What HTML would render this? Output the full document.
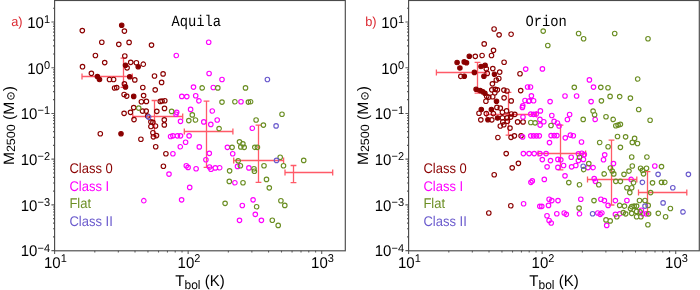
<!DOCTYPE html>
<html><head><meta charset="utf-8"><style>html,body{margin:0;padding:0;background:#fff;width:700px;height:290px;overflow:hidden}svg{display:block;will-change:transform;text-rendering:geometricPrecision}</style></head>
<body><svg width="700" height="290" viewBox="0 0 700 290">
<path d="M82.00,76.50H132.30M123.50,58.10V87.30M82.00,73.60V79.40M132.30,73.60V79.40M120.60,58.10H126.40M120.60,87.30H126.40M132.80,116.50H182.70M154.50,100.50V136.20M132.80,113.60V119.40M182.70,113.60V119.40M151.60,100.50H157.40M151.60,136.20H157.40M184.30,131.50H232.90M206.50,101.20V167.30M184.30,128.60V134.40M232.90,128.60V134.40M203.60,101.20H209.40M203.60,167.30H209.40M233.70,160.50H283.60M258.50,125.20V182.30M233.70,157.60V163.40M283.60,157.60V163.40M255.60,125.20H261.40M255.60,182.30H261.40M285.00,172.50H332.70M293.50,165.50V182.60M285.00,169.60V175.40M332.70,169.60V175.40M290.60,165.50H296.40M290.60,182.60H296.40M436.40,72.50H486.70M477.50,62.40V93.10M436.40,69.60V75.40M486.70,69.60V75.40M474.60,62.40H480.40M474.60,93.10H480.40M486.50,114.50H536.40M508.50,92.30V135.20M486.50,111.60V117.40M536.40,111.60V117.40M505.60,92.30H511.40M505.60,135.20H511.40M538.20,153.50H585.60M560.50,125.20V169.90M538.20,150.60V156.40M585.60,150.60V156.40M557.60,125.20H563.40M557.60,169.90H563.40M587.50,179.50H636.80M611.50,140.20V205.00M587.50,176.60V182.40M636.80,176.60V182.40M608.60,140.20H614.40M608.60,205.00H614.40M638.50,192.50H686.80M647.50,171.60V213.80M638.50,189.60V195.40M686.80,189.60V195.40M644.60,171.60H650.40M644.60,213.80H650.40" stroke="#ff5a68" stroke-width="1.3" fill="none"/>
<path d="M80.05,30.60a2.25,2.25 0 1,0 4.5,0a2.25,2.25 0 1,0 -4.5,0M122.15,31.10a2.25,2.25 0 1,0 4.5,0a2.25,2.25 0 1,0 -4.5,0M99.55,42.20a2.25,2.25 0 1,0 4.5,0a2.25,2.25 0 1,0 -4.5,0M116.55,44.30a2.25,2.25 0 1,0 4.5,0a2.25,2.25 0 1,0 -4.5,0M93.15,55.50a2.25,2.25 0 1,0 4.5,0a2.25,2.25 0 1,0 -4.5,0M122.55,56.00a2.25,2.25 0 1,0 4.5,0a2.25,2.25 0 1,0 -4.5,0M126.85,42.40a2.25,2.25 0 1,0 4.5,0a2.25,2.25 0 1,0 -4.5,0M149.25,45.10a2.25,2.25 0 1,0 4.5,0a2.25,2.25 0 1,0 -4.5,0M80.25,66.70a2.25,2.25 0 1,0 4.5,0a2.25,2.25 0 1,0 -4.5,0M102.45,62.60a2.25,2.25 0 1,0 4.5,0a2.25,2.25 0 1,0 -4.5,0M89.15,73.30a2.25,2.25 0 1,0 4.5,0a2.25,2.25 0 1,0 -4.5,0M107.25,79.50a2.25,2.25 0 1,0 4.5,0a2.25,2.25 0 1,0 -4.5,0M111.35,79.50a2.25,2.25 0 1,0 4.5,0a2.25,2.25 0 1,0 -4.5,0M112.35,88.00a2.25,2.25 0 1,0 4.5,0a2.25,2.25 0 1,0 -4.5,0M114.45,87.60a2.25,2.25 0 1,0 4.5,0a2.25,2.25 0 1,0 -4.5,0M122.15,83.90a2.25,2.25 0 1,0 4.5,0a2.25,2.25 0 1,0 -4.5,0M124.85,67.80a2.25,2.25 0 1,0 4.5,0a2.25,2.25 0 1,0 -4.5,0M128.45,62.30a2.25,2.25 0 1,0 4.5,0a2.25,2.25 0 1,0 -4.5,0M134.15,62.70a2.25,2.25 0 1,0 4.5,0a2.25,2.25 0 1,0 -4.5,0M141.05,64.20a2.25,2.25 0 1,0 4.5,0a2.25,2.25 0 1,0 -4.5,0M132.55,79.90a2.25,2.25 0 1,0 4.5,0a2.25,2.25 0 1,0 -4.5,0M152.25,76.00a2.25,2.25 0 1,0 4.5,0a2.25,2.25 0 1,0 -4.5,0M140.55,87.50a2.25,2.25 0 1,0 4.5,0a2.25,2.25 0 1,0 -4.5,0M152.95,89.80a2.25,2.25 0 1,0 4.5,0a2.25,2.25 0 1,0 -4.5,0M160.85,73.90a2.25,2.25 0 1,0 4.5,0a2.25,2.25 0 1,0 -4.5,0M159.35,82.40a2.25,2.25 0 1,0 4.5,0a2.25,2.25 0 1,0 -4.5,0M121.85,94.50a2.25,2.25 0 1,0 4.5,0a2.25,2.25 0 1,0 -4.5,0M124.45,96.10a2.25,2.25 0 1,0 4.5,0a2.25,2.25 0 1,0 -4.5,0M139.15,101.70a2.25,2.25 0 1,0 4.5,0a2.25,2.25 0 1,0 -4.5,0M131.45,107.60a2.25,2.25 0 1,0 4.5,0a2.25,2.25 0 1,0 -4.5,0M121.85,113.30a2.25,2.25 0 1,0 4.5,0a2.25,2.25 0 1,0 -4.5,0M128.25,112.30a2.25,2.25 0 1,0 4.5,0a2.25,2.25 0 1,0 -4.5,0M131.75,119.60a2.25,2.25 0 1,0 4.5,0a2.25,2.25 0 1,0 -4.5,0M141.35,95.60a2.25,2.25 0 1,0 4.5,0a2.25,2.25 0 1,0 -4.5,0M144.15,101.40a2.25,2.25 0 1,0 4.5,0a2.25,2.25 0 1,0 -4.5,0M158.05,101.40a2.25,2.25 0 1,0 4.5,0a2.25,2.25 0 1,0 -4.5,0M159.85,101.00a2.25,2.25 0 1,0 4.5,0a2.25,2.25 0 1,0 -4.5,0M162.55,100.70a2.25,2.25 0 1,0 4.5,0a2.25,2.25 0 1,0 -4.5,0M162.25,108.40a2.25,2.25 0 1,0 4.5,0a2.25,2.25 0 1,0 -4.5,0M154.55,111.30a2.25,2.25 0 1,0 4.5,0a2.25,2.25 0 1,0 -4.5,0M140.25,111.10a2.25,2.25 0 1,0 4.5,0a2.25,2.25 0 1,0 -4.5,0M143.95,111.10a2.25,2.25 0 1,0 4.5,0a2.25,2.25 0 1,0 -4.5,0M145.45,116.10a2.25,2.25 0 1,0 4.5,0a2.25,2.25 0 1,0 -4.5,0M148.65,121.80a2.25,2.25 0 1,0 4.5,0a2.25,2.25 0 1,0 -4.5,0M150.65,122.30a2.25,2.25 0 1,0 4.5,0a2.25,2.25 0 1,0 -4.5,0M148.65,126.50a2.25,2.25 0 1,0 4.5,0a2.25,2.25 0 1,0 -4.5,0M153.25,126.00a2.25,2.25 0 1,0 4.5,0a2.25,2.25 0 1,0 -4.5,0M162.05,119.80a2.25,2.25 0 1,0 4.5,0a2.25,2.25 0 1,0 -4.5,0M162.05,124.90a2.25,2.25 0 1,0 4.5,0a2.25,2.25 0 1,0 -4.5,0M98.05,133.70a2.25,2.25 0 1,0 4.5,0a2.25,2.25 0 1,0 -4.5,0M138.65,139.20a2.25,2.25 0 1,0 4.5,0a2.25,2.25 0 1,0 -4.5,0M150.65,132.70a2.25,2.25 0 1,0 4.5,0a2.25,2.25 0 1,0 -4.5,0M151.15,136.80a2.25,2.25 0 1,0 4.5,0a2.25,2.25 0 1,0 -4.5,0M154.25,135.60a2.25,2.25 0 1,0 4.5,0a2.25,2.25 0 1,0 -4.5,0M153.45,146.70a2.25,2.25 0 1,0 4.5,0a2.25,2.25 0 1,0 -4.5,0M163.65,153.70a2.25,2.25 0 1,0 4.5,0a2.25,2.25 0 1,0 -4.5,0M161.15,166.20a2.25,2.25 0 1,0 4.5,0a2.25,2.25 0 1,0 -4.5,0M491.85,29.00a2.25,2.25 0 1,0 4.5,0a2.25,2.25 0 1,0 -4.5,0M496.85,34.80a2.25,2.25 0 1,0 4.5,0a2.25,2.25 0 1,0 -4.5,0M508.85,34.20a2.25,2.25 0 1,0 4.5,0a2.25,2.25 0 1,0 -4.5,0M481.95,43.90a2.25,2.25 0 1,0 4.5,0a2.25,2.25 0 1,0 -4.5,0M491.25,50.30a2.25,2.25 0 1,0 4.5,0a2.25,2.25 0 1,0 -4.5,0M479.85,55.50a2.25,2.25 0 1,0 4.5,0a2.25,2.25 0 1,0 -4.5,0M489.25,55.50a2.25,2.25 0 1,0 4.5,0a2.25,2.25 0 1,0 -4.5,0M473.05,56.30a2.25,2.25 0 1,0 4.5,0a2.25,2.25 0 1,0 -4.5,0M458.55,76.30a2.25,2.25 0 1,0 4.5,0a2.25,2.25 0 1,0 -4.5,0M501.85,62.20a2.25,2.25 0 1,0 4.5,0a2.25,2.25 0 1,0 -4.5,0M484.05,68.80a2.25,2.25 0 1,0 4.5,0a2.25,2.25 0 1,0 -4.5,0M484.95,73.40a2.25,2.25 0 1,0 4.5,0a2.25,2.25 0 1,0 -4.5,0M490.55,68.60a2.25,2.25 0 1,0 4.5,0a2.25,2.25 0 1,0 -4.5,0M497.45,72.10a2.25,2.25 0 1,0 4.5,0a2.25,2.25 0 1,0 -4.5,0M494.05,80.00a2.25,2.25 0 1,0 4.5,0a2.25,2.25 0 1,0 -4.5,0M496.55,78.50a2.25,2.25 0 1,0 4.5,0a2.25,2.25 0 1,0 -4.5,0M490.15,83.80a2.25,2.25 0 1,0 4.5,0a2.25,2.25 0 1,0 -4.5,0M484.45,96.20a2.25,2.25 0 1,0 4.5,0a2.25,2.25 0 1,0 -4.5,0M486.55,97.10a2.25,2.25 0 1,0 4.5,0a2.25,2.25 0 1,0 -4.5,0M483.65,101.20a2.25,2.25 0 1,0 4.5,0a2.25,2.25 0 1,0 -4.5,0M489.55,89.80a2.25,2.25 0 1,0 4.5,0a2.25,2.25 0 1,0 -4.5,0M493.05,89.30a2.25,2.25 0 1,0 4.5,0a2.25,2.25 0 1,0 -4.5,0M495.15,89.80a2.25,2.25 0 1,0 4.5,0a2.25,2.25 0 1,0 -4.5,0M492.55,92.80a2.25,2.25 0 1,0 4.5,0a2.25,2.25 0 1,0 -4.5,0M490.45,96.70a2.25,2.25 0 1,0 4.5,0a2.25,2.25 0 1,0 -4.5,0M501.65,90.10a2.25,2.25 0 1,0 4.5,0a2.25,2.25 0 1,0 -4.5,0M504.75,91.00a2.25,2.25 0 1,0 4.5,0a2.25,2.25 0 1,0 -4.5,0M501.85,97.80a2.25,2.25 0 1,0 4.5,0a2.25,2.25 0 1,0 -4.5,0M518.45,90.60a2.25,2.25 0 1,0 4.5,0a2.25,2.25 0 1,0 -4.5,0M508.95,100.90a2.25,2.25 0 1,0 4.5,0a2.25,2.25 0 1,0 -4.5,0M517.75,73.70a2.25,2.25 0 1,0 4.5,0a2.25,2.25 0 1,0 -4.5,0M476.75,113.20a2.25,2.25 0 1,0 4.5,0a2.25,2.25 0 1,0 -4.5,0M484.05,113.60a2.25,2.25 0 1,0 4.5,0a2.25,2.25 0 1,0 -4.5,0M491.15,113.60a2.25,2.25 0 1,0 4.5,0a2.25,2.25 0 1,0 -4.5,0M494.65,107.40a2.25,2.25 0 1,0 4.5,0a2.25,2.25 0 1,0 -4.5,0M498.05,108.10a2.25,2.25 0 1,0 4.5,0a2.25,2.25 0 1,0 -4.5,0M500.15,112.20a2.25,2.25 0 1,0 4.5,0a2.25,2.25 0 1,0 -4.5,0M504.35,110.90a2.25,2.25 0 1,0 4.5,0a2.25,2.25 0 1,0 -4.5,0M509.15,114.00a2.25,2.25 0 1,0 4.5,0a2.25,2.25 0 1,0 -4.5,0M512.55,114.30a2.25,2.25 0 1,0 4.5,0a2.25,2.25 0 1,0 -4.5,0M478.55,119.80a2.25,2.25 0 1,0 4.5,0a2.25,2.25 0 1,0 -4.5,0M489.55,119.80a2.25,2.25 0 1,0 4.5,0a2.25,2.25 0 1,0 -4.5,0M500.15,117.80a2.25,2.25 0 1,0 4.5,0a2.25,2.25 0 1,0 -4.5,0M504.95,117.80a2.25,2.25 0 1,0 4.5,0a2.25,2.25 0 1,0 -4.5,0M508.45,117.10a2.25,2.25 0 1,0 4.5,0a2.25,2.25 0 1,0 -4.5,0M500.55,121.90a2.25,2.25 0 1,0 4.5,0a2.25,2.25 0 1,0 -4.5,0M498.05,126.00a2.25,2.25 0 1,0 4.5,0a2.25,2.25 0 1,0 -4.5,0M501.55,124.70a2.25,2.25 0 1,0 4.5,0a2.25,2.25 0 1,0 -4.5,0M505.25,121.20a2.25,2.25 0 1,0 4.5,0a2.25,2.25 0 1,0 -4.5,0M507.75,128.10a2.25,2.25 0 1,0 4.5,0a2.25,2.25 0 1,0 -4.5,0M515.35,121.90a2.25,2.25 0 1,0 4.5,0a2.25,2.25 0 1,0 -4.5,0M520.85,121.90a2.25,2.25 0 1,0 4.5,0a2.25,2.25 0 1,0 -4.5,0M495.65,137.50a2.25,2.25 0 1,0 4.5,0a2.25,2.25 0 1,0 -4.5,0M508.75,137.30a2.25,2.25 0 1,0 4.5,0a2.25,2.25 0 1,0 -4.5,0M512.15,135.80a2.25,2.25 0 1,0 4.5,0a2.25,2.25 0 1,0 -4.5,0M503.95,153.60a2.25,2.25 0 1,0 4.5,0a2.25,2.25 0 1,0 -4.5,0M518.85,135.80a2.25,2.25 0 1,0 4.5,0a2.25,2.25 0 1,0 -4.5,0M516.15,163.30a2.25,2.25 0 1,0 4.5,0a2.25,2.25 0 1,0 -4.5,0M509.95,167.80a2.25,2.25 0 1,0 4.5,0a2.25,2.25 0 1,0 -4.5,0M491.95,174.70a2.25,2.25 0 1,0 4.5,0a2.25,2.25 0 1,0 -4.5,0M508.55,205.70a2.25,2.25 0 1,0 4.5,0a2.25,2.25 0 1,0 -4.5,0M486.55,213.00a2.25,2.25 0 1,0 4.5,0a2.25,2.25 0 1,0 -4.5,0" fill="none" stroke="#8b0000" stroke-width="1.15"/>
<path d="M119.45,25.30a2.25,2.25 0 1,0 4.5,0a2.25,2.25 0 1,0 -4.5,0M95.15,76.60a2.25,2.25 0 1,0 4.5,0a2.25,2.25 0 1,0 -4.5,0M97.25,79.50a2.25,2.25 0 1,0 4.5,0a2.25,2.25 0 1,0 -4.5,0M123.25,86.90a2.25,2.25 0 1,0 4.5,0a2.25,2.25 0 1,0 -4.5,0M123.25,65.20a2.25,2.25 0 1,0 4.5,0a2.25,2.25 0 1,0 -4.5,0M135.95,66.70a2.25,2.25 0 1,0 4.5,0a2.25,2.25 0 1,0 -4.5,0M127.45,76.70a2.25,2.25 0 1,0 4.5,0a2.25,2.25 0 1,0 -4.5,0M131.45,96.40a2.25,2.25 0 1,0 4.5,0a2.25,2.25 0 1,0 -4.5,0M118.75,133.70a2.25,2.25 0 1,0 4.5,0a2.25,2.25 0 1,0 -4.5,0M467.05,56.30a2.25,2.25 0 1,0 4.5,0a2.25,2.25 0 1,0 -4.5,0M454.85,62.50a2.25,2.25 0 1,0 4.5,0a2.25,2.25 0 1,0 -4.5,0M461.95,61.90a2.25,2.25 0 1,0 4.5,0a2.25,2.25 0 1,0 -4.5,0M464.25,62.70a2.25,2.25 0 1,0 4.5,0a2.25,2.25 0 1,0 -4.5,0M457.65,68.00a2.25,2.25 0 1,0 4.5,0a2.25,2.25 0 1,0 -4.5,0M472.15,72.40a2.25,2.25 0 1,0 4.5,0a2.25,2.25 0 1,0 -4.5,0M462.05,76.30a2.25,2.25 0 1,0 4.5,0a2.25,2.25 0 1,0 -4.5,0M478.75,66.50a2.25,2.25 0 1,0 4.5,0a2.25,2.25 0 1,0 -4.5,0M482.85,65.30a2.25,2.25 0 1,0 4.5,0a2.25,2.25 0 1,0 -4.5,0M481.65,76.20a2.25,2.25 0 1,0 4.5,0a2.25,2.25 0 1,0 -4.5,0M492.25,74.20a2.25,2.25 0 1,0 4.5,0a2.25,2.25 0 1,0 -4.5,0M473.85,89.30a2.25,2.25 0 1,0 4.5,0a2.25,2.25 0 1,0 -4.5,0M477.95,90.60a2.25,2.25 0 1,0 4.5,0a2.25,2.25 0 1,0 -4.5,0M480.55,91.70a2.25,2.25 0 1,0 4.5,0a2.25,2.25 0 1,0 -4.5,0M482.65,93.20a2.25,2.25 0 1,0 4.5,0a2.25,2.25 0 1,0 -4.5,0M494.25,101.20a2.25,2.25 0 1,0 4.5,0a2.25,2.25 0 1,0 -4.5,0M479.05,109.50a2.25,2.25 0 1,0 4.5,0a2.25,2.25 0 1,0 -4.5,0M489.15,109.50a2.25,2.25 0 1,0 4.5,0a2.25,2.25 0 1,0 -4.5,0M485.65,119.80a2.25,2.25 0 1,0 4.5,0a2.25,2.25 0 1,0 -4.5,0M495.35,118.00a2.25,2.25 0 1,0 4.5,0a2.25,2.25 0 1,0 -4.5,0" fill="#8b0000" stroke="#8b0000" stroke-width="1.1"/>
<path d="M174.05,55.50a2.25,2.25 0 1,0 4.5,0a2.25,2.25 0 1,0 -4.5,0M206.45,42.20a2.25,2.25 0 1,0 4.5,0a2.25,2.25 0 1,0 -4.5,0M191.25,87.10a2.25,2.25 0 1,0 4.5,0a2.25,2.25 0 1,0 -4.5,0M174.45,112.30a2.25,2.25 0 1,0 4.5,0a2.25,2.25 0 1,0 -4.5,0M173.75,114.20a2.25,2.25 0 1,0 4.5,0a2.25,2.25 0 1,0 -4.5,0M179.55,96.40a2.25,2.25 0 1,0 4.5,0a2.25,2.25 0 1,0 -4.5,0M184.55,96.60a2.25,2.25 0 1,0 4.5,0a2.25,2.25 0 1,0 -4.5,0M178.25,121.30a2.25,2.25 0 1,0 4.5,0a2.25,2.25 0 1,0 -4.5,0M206.85,73.50a2.25,2.25 0 1,0 4.5,0a2.25,2.25 0 1,0 -4.5,0M219.75,79.50a2.25,2.25 0 1,0 4.5,0a2.25,2.25 0 1,0 -4.5,0M211.05,87.50a2.25,2.25 0 1,0 4.5,0a2.25,2.25 0 1,0 -4.5,0M193.45,95.70a2.25,2.25 0 1,0 4.5,0a2.25,2.25 0 1,0 -4.5,0M196.65,100.80a2.25,2.25 0 1,0 4.5,0a2.25,2.25 0 1,0 -4.5,0M188.35,109.40a2.25,2.25 0 1,0 4.5,0a2.25,2.25 0 1,0 -4.5,0M210.05,111.00a2.25,2.25 0 1,0 4.5,0a2.25,2.25 0 1,0 -4.5,0M201.55,121.90a2.25,2.25 0 1,0 4.5,0a2.25,2.25 0 1,0 -4.5,0M208.55,124.40a2.25,2.25 0 1,0 4.5,0a2.25,2.25 0 1,0 -4.5,0M214.95,120.00a2.25,2.25 0 1,0 4.5,0a2.25,2.25 0 1,0 -4.5,0M238.75,101.70a2.25,2.25 0 1,0 4.5,0a2.25,2.25 0 1,0 -4.5,0M168.35,136.50a2.25,2.25 0 1,0 4.5,0a2.25,2.25 0 1,0 -4.5,0M170.65,135.80a2.25,2.25 0 1,0 4.5,0a2.25,2.25 0 1,0 -4.5,0M175.15,135.80a2.25,2.25 0 1,0 4.5,0a2.25,2.25 0 1,0 -4.5,0M178.25,135.80a2.25,2.25 0 1,0 4.5,0a2.25,2.25 0 1,0 -4.5,0M183.35,142.20a2.25,2.25 0 1,0 4.5,0a2.25,2.25 0 1,0 -4.5,0M178.05,146.70a2.25,2.25 0 1,0 4.5,0a2.25,2.25 0 1,0 -4.5,0M170.65,153.70a2.25,2.25 0 1,0 4.5,0a2.25,2.25 0 1,0 -4.5,0M186.85,135.80a2.25,2.25 0 1,0 4.5,0a2.25,2.25 0 1,0 -4.5,0M197.05,146.90a2.25,2.25 0 1,0 4.5,0a2.25,2.25 0 1,0 -4.5,0M225.15,147.30a2.25,2.25 0 1,0 4.5,0a2.25,2.25 0 1,0 -4.5,0M207.05,153.30a2.25,2.25 0 1,0 4.5,0a2.25,2.25 0 1,0 -4.5,0M203.65,159.70a2.25,2.25 0 1,0 4.5,0a2.25,2.25 0 1,0 -4.5,0M250.05,128.20a2.25,2.25 0 1,0 4.5,0a2.25,2.25 0 1,0 -4.5,0M230.45,153.70a2.25,2.25 0 1,0 4.5,0a2.25,2.25 0 1,0 -4.5,0M166.75,174.10a2.25,2.25 0 1,0 4.5,0a2.25,2.25 0 1,0 -4.5,0M184.05,165.70a2.25,2.25 0 1,0 4.5,0a2.25,2.25 0 1,0 -4.5,0M185.85,167.40a2.25,2.25 0 1,0 4.5,0a2.25,2.25 0 1,0 -4.5,0M193.85,168.70a2.25,2.25 0 1,0 4.5,0a2.25,2.25 0 1,0 -4.5,0M207.25,167.00a2.25,2.25 0 1,0 4.5,0a2.25,2.25 0 1,0 -4.5,0M208.75,169.20a2.25,2.25 0 1,0 4.5,0a2.25,2.25 0 1,0 -4.5,0M213.05,167.90a2.25,2.25 0 1,0 4.5,0a2.25,2.25 0 1,0 -4.5,0M217.45,167.70a2.25,2.25 0 1,0 4.5,0a2.25,2.25 0 1,0 -4.5,0M187.45,187.40a2.25,2.25 0 1,0 4.5,0a2.25,2.25 0 1,0 -4.5,0M235.25,166.40a2.25,2.25 0 1,0 4.5,0a2.25,2.25 0 1,0 -4.5,0M246.65,167.90a2.25,2.25 0 1,0 4.5,0a2.25,2.25 0 1,0 -4.5,0M232.65,182.70a2.25,2.25 0 1,0 4.5,0a2.25,2.25 0 1,0 -4.5,0M141.55,200.70a2.25,2.25 0 1,0 4.5,0a2.25,2.25 0 1,0 -4.5,0M179.35,199.80a2.25,2.25 0 1,0 4.5,0a2.25,2.25 0 1,0 -4.5,0M250.85,199.80a2.25,2.25 0 1,0 4.5,0a2.25,2.25 0 1,0 -4.5,0M240.05,205.50a2.25,2.25 0 1,0 4.5,0a2.25,2.25 0 1,0 -4.5,0M253.05,214.40a2.25,2.25 0 1,0 4.5,0a2.25,2.25 0 1,0 -4.5,0M237.25,220.30a2.25,2.25 0 1,0 4.5,0a2.25,2.25 0 1,0 -4.5,0M259.15,220.30a2.25,2.25 0 1,0 4.5,0a2.25,2.25 0 1,0 -4.5,0M525.35,87.00a2.25,2.25 0 1,0 4.5,0a2.25,2.25 0 1,0 -4.5,0M528.25,87.00a2.25,2.25 0 1,0 4.5,0a2.25,2.25 0 1,0 -4.5,0M522.75,100.50a2.25,2.25 0 1,0 4.5,0a2.25,2.25 0 1,0 -4.5,0M526.35,101.20a2.25,2.25 0 1,0 4.5,0a2.25,2.25 0 1,0 -4.5,0M520.55,105.70a2.25,2.25 0 1,0 4.5,0a2.25,2.25 0 1,0 -4.5,0M523.45,69.10a2.25,2.25 0 1,0 4.5,0a2.25,2.25 0 1,0 -4.5,0M540.15,68.90a2.25,2.25 0 1,0 4.5,0a2.25,2.25 0 1,0 -4.5,0M529.15,95.80a2.25,2.25 0 1,0 4.5,0a2.25,2.25 0 1,0 -4.5,0M520.15,107.40a2.25,2.25 0 1,0 4.5,0a2.25,2.25 0 1,0 -4.5,0M520.75,117.00a2.25,2.25 0 1,0 4.5,0a2.25,2.25 0 1,0 -4.5,0M527.15,100.70a2.25,2.25 0 1,0 4.5,0a2.25,2.25 0 1,0 -4.5,0M531.35,100.70a2.25,2.25 0 1,0 4.5,0a2.25,2.25 0 1,0 -4.5,0M547.85,101.60a2.25,2.25 0 1,0 4.5,0a2.25,2.25 0 1,0 -4.5,0M538.15,110.90a2.25,2.25 0 1,0 4.5,0a2.25,2.25 0 1,0 -4.5,0M528.55,114.10a2.25,2.25 0 1,0 4.5,0a2.25,2.25 0 1,0 -4.5,0M531.35,114.30a2.25,2.25 0 1,0 4.5,0a2.25,2.25 0 1,0 -4.5,0M533.95,114.10a2.25,2.25 0 1,0 4.5,0a2.25,2.25 0 1,0 -4.5,0M549.55,115.50a2.25,2.25 0 1,0 4.5,0a2.25,2.25 0 1,0 -4.5,0M537.65,119.40a2.25,2.25 0 1,0 4.5,0a2.25,2.25 0 1,0 -4.5,0M541.55,121.70a2.25,2.25 0 1,0 4.5,0a2.25,2.25 0 1,0 -4.5,0M537.85,125.10a2.25,2.25 0 1,0 4.5,0a2.25,2.25 0 1,0 -4.5,0M551.85,121.40a2.25,2.25 0 1,0 4.5,0a2.25,2.25 0 1,0 -4.5,0M587.15,79.90a2.25,2.25 0 1,0 4.5,0a2.25,2.25 0 1,0 -4.5,0M591.25,87.10a2.25,2.25 0 1,0 4.5,0a2.25,2.25 0 1,0 -4.5,0M562.75,96.00a2.25,2.25 0 1,0 4.5,0a2.25,2.25 0 1,0 -4.5,0M574.35,96.00a2.25,2.25 0 1,0 4.5,0a2.25,2.25 0 1,0 -4.5,0M588.85,101.60a2.25,2.25 0 1,0 4.5,0a2.25,2.25 0 1,0 -4.5,0M592.95,119.40a2.25,2.25 0 1,0 4.5,0a2.25,2.25 0 1,0 -4.5,0M567.35,114.50a2.25,2.25 0 1,0 4.5,0a2.25,2.25 0 1,0 -4.5,0M565.15,119.50a2.25,2.25 0 1,0 4.5,0a2.25,2.25 0 1,0 -4.5,0M555.15,123.00a2.25,2.25 0 1,0 4.5,0a2.25,2.25 0 1,0 -4.5,0M556.85,126.00a2.25,2.25 0 1,0 4.5,0a2.25,2.25 0 1,0 -4.5,0M548.85,135.60a2.25,2.25 0 1,0 4.5,0a2.25,2.25 0 1,0 -4.5,0M551.95,135.60a2.25,2.25 0 1,0 4.5,0a2.25,2.25 0 1,0 -4.5,0M554.65,135.60a2.25,2.25 0 1,0 4.5,0a2.25,2.25 0 1,0 -4.5,0M563.05,137.80a2.25,2.25 0 1,0 4.5,0a2.25,2.25 0 1,0 -4.5,0M568.15,135.10a2.25,2.25 0 1,0 4.5,0a2.25,2.25 0 1,0 -4.5,0M571.05,135.70a2.25,2.25 0 1,0 4.5,0a2.25,2.25 0 1,0 -4.5,0M520.35,136.90a2.25,2.25 0 1,0 4.5,0a2.25,2.25 0 1,0 -4.5,0M528.55,135.80a2.25,2.25 0 1,0 4.5,0a2.25,2.25 0 1,0 -4.5,0M531.35,135.80a2.25,2.25 0 1,0 4.5,0a2.25,2.25 0 1,0 -4.5,0M534.25,135.80a2.25,2.25 0 1,0 4.5,0a2.25,2.25 0 1,0 -4.5,0M537.05,135.80a2.25,2.25 0 1,0 4.5,0a2.25,2.25 0 1,0 -4.5,0M547.25,142.60a2.25,2.25 0 1,0 4.5,0a2.25,2.25 0 1,0 -4.5,0M521.15,153.60a2.25,2.25 0 1,0 4.5,0a2.25,2.25 0 1,0 -4.5,0M526.85,153.60a2.25,2.25 0 1,0 4.5,0a2.25,2.25 0 1,0 -4.5,0M531.95,153.60a2.25,2.25 0 1,0 4.5,0a2.25,2.25 0 1,0 -4.5,0M537.65,153.60a2.25,2.25 0 1,0 4.5,0a2.25,2.25 0 1,0 -4.5,0M543.85,153.60a2.25,2.25 0 1,0 4.5,0a2.25,2.25 0 1,0 -4.5,0M579.25,142.00a2.25,2.25 0 1,0 4.5,0a2.25,2.25 0 1,0 -4.5,0M548.25,160.60a2.25,2.25 0 1,0 4.5,0a2.25,2.25 0 1,0 -4.5,0M555.65,159.40a2.25,2.25 0 1,0 4.5,0a2.25,2.25 0 1,0 -4.5,0M558.55,159.80a2.25,2.25 0 1,0 4.5,0a2.25,2.25 0 1,0 -4.5,0M568.95,157.20a2.25,2.25 0 1,0 4.5,0a2.25,2.25 0 1,0 -4.5,0M576.15,153.80a2.25,2.25 0 1,0 4.5,0a2.25,2.25 0 1,0 -4.5,0M579.55,153.20a2.25,2.25 0 1,0 4.5,0a2.25,2.25 0 1,0 -4.5,0M582.05,154.60a2.25,2.25 0 1,0 4.5,0a2.25,2.25 0 1,0 -4.5,0M576.15,160.60a2.25,2.25 0 1,0 4.5,0a2.25,2.25 0 1,0 -4.5,0M581.15,159.40a2.25,2.25 0 1,0 4.5,0a2.25,2.25 0 1,0 -4.5,0M561.35,165.50a2.25,2.25 0 1,0 4.5,0a2.25,2.25 0 1,0 -4.5,0M569.35,166.80a2.25,2.25 0 1,0 4.5,0a2.25,2.25 0 1,0 -4.5,0M573.55,165.50a2.25,2.25 0 1,0 4.5,0a2.25,2.25 0 1,0 -4.5,0M544.85,166.80a2.25,2.25 0 1,0 4.5,0a2.25,2.25 0 1,0 -4.5,0M555.65,167.40a2.25,2.25 0 1,0 4.5,0a2.25,2.25 0 1,0 -4.5,0M602.45,154.80a2.25,2.25 0 1,0 4.5,0a2.25,2.25 0 1,0 -4.5,0M601.25,159.70a2.25,2.25 0 1,0 4.5,0a2.25,2.25 0 1,0 -4.5,0M585.75,167.60a2.25,2.25 0 1,0 4.5,0a2.25,2.25 0 1,0 -4.5,0M590.85,167.60a2.25,2.25 0 1,0 4.5,0a2.25,2.25 0 1,0 -4.5,0M611.25,163.60a2.25,2.25 0 1,0 4.5,0a2.25,2.25 0 1,0 -4.5,0M591.95,178.60a2.25,2.25 0 1,0 4.5,0a2.25,2.25 0 1,0 -4.5,0M593.15,181.30a2.25,2.25 0 1,0 4.5,0a2.25,2.25 0 1,0 -4.5,0M652.55,166.00a2.25,2.25 0 1,0 4.5,0a2.25,2.25 0 1,0 -4.5,0M628.95,179.40a2.25,2.25 0 1,0 4.5,0a2.25,2.25 0 1,0 -4.5,0M540.05,159.60a2.25,2.25 0 1,0 4.5,0a2.25,2.25 0 1,0 -4.5,0M528.65,182.30a2.25,2.25 0 1,0 4.5,0a2.25,2.25 0 1,0 -4.5,0M530.05,180.90a2.25,2.25 0 1,0 4.5,0a2.25,2.25 0 1,0 -4.5,0M542.05,179.40a2.25,2.25 0 1,0 4.5,0a2.25,2.25 0 1,0 -4.5,0M521.35,203.70a2.25,2.25 0 1,0 4.5,0a2.25,2.25 0 1,0 -4.5,0M537.55,206.30a2.25,2.25 0 1,0 4.5,0a2.25,2.25 0 1,0 -4.5,0M539.55,206.30a2.25,2.25 0 1,0 4.5,0a2.25,2.25 0 1,0 -4.5,0M562.75,175.80a2.25,2.25 0 1,0 4.5,0a2.25,2.25 0 1,0 -4.5,0M546.85,199.20a2.25,2.25 0 1,0 4.5,0a2.25,2.25 0 1,0 -4.5,0M549.55,200.60a2.25,2.25 0 1,0 4.5,0a2.25,2.25 0 1,0 -4.5,0M555.75,200.60a2.25,2.25 0 1,0 4.5,0a2.25,2.25 0 1,0 -4.5,0M578.55,199.20a2.25,2.25 0 1,0 4.5,0a2.25,2.25 0 1,0 -4.5,0M546.25,205.40a2.25,2.25 0 1,0 4.5,0a2.25,2.25 0 1,0 -4.5,0M598.65,199.20a2.25,2.25 0 1,0 4.5,0a2.25,2.25 0 1,0 -4.5,0M602.15,200.60a2.25,2.25 0 1,0 4.5,0a2.25,2.25 0 1,0 -4.5,0M605.85,205.40a2.25,2.25 0 1,0 4.5,0a2.25,2.25 0 1,0 -4.5,0M613.15,200.60a2.25,2.25 0 1,0 4.5,0a2.25,2.25 0 1,0 -4.5,0M554.55,213.70a2.25,2.25 0 1,0 4.5,0a2.25,2.25 0 1,0 -4.5,0M561.95,213.00a2.25,2.25 0 1,0 4.5,0a2.25,2.25 0 1,0 -4.5,0M564.05,214.30a2.25,2.25 0 1,0 4.5,0a2.25,2.25 0 1,0 -4.5,0M577.25,213.70a2.25,2.25 0 1,0 4.5,0a2.25,2.25 0 1,0 -4.5,0M595.55,213.00a2.25,2.25 0 1,0 4.5,0a2.25,2.25 0 1,0 -4.5,0M597.95,214.30a2.25,2.25 0 1,0 4.5,0a2.25,2.25 0 1,0 -4.5,0M599.65,213.00a2.25,2.25 0 1,0 4.5,0a2.25,2.25 0 1,0 -4.5,0M613.15,214.30a2.25,2.25 0 1,0 4.5,0a2.25,2.25 0 1,0 -4.5,0M544.75,215.70a2.25,2.25 0 1,0 4.5,0a2.25,2.25 0 1,0 -4.5,0M546.85,220.50a2.25,2.25 0 1,0 4.5,0a2.25,2.25 0 1,0 -4.5,0M548.95,223.00a2.25,2.25 0 1,0 4.5,0a2.25,2.25 0 1,0 -4.5,0M624.65,200.50a2.25,2.25 0 1,0 4.5,0a2.25,2.25 0 1,0 -4.5,0M617.45,213.80a2.25,2.25 0 1,0 4.5,0a2.25,2.25 0 1,0 -4.5,0M639.15,210.20a2.25,2.25 0 1,0 4.5,0a2.25,2.25 0 1,0 -4.5,0M640.35,213.80a2.25,2.25 0 1,0 4.5,0a2.25,2.25 0 1,0 -4.5,0M643.95,213.80a2.25,2.25 0 1,0 4.5,0a2.25,2.25 0 1,0 -4.5,0M604.45,225.40a2.25,2.25 0 1,0 4.5,0a2.25,2.25 0 1,0 -4.5,0" fill="none" stroke="#ff00ff" stroke-width="1.15"/>
<path d="M136.45,108.10a2.25,2.25 0 1,0 4.5,0a2.25,2.25 0 1,0 -4.5,0M169.35,111.40a2.25,2.25 0 1,0 4.5,0a2.25,2.25 0 1,0 -4.5,0M199.95,87.90a2.25,2.25 0 1,0 4.5,0a2.25,2.25 0 1,0 -4.5,0M215.55,87.90a2.25,2.25 0 1,0 4.5,0a2.25,2.25 0 1,0 -4.5,0M243.25,87.90a2.25,2.25 0 1,0 4.5,0a2.25,2.25 0 1,0 -4.5,0M279.75,114.20a2.25,2.25 0 1,0 4.5,0a2.25,2.25 0 1,0 -4.5,0M219.75,102.10a2.25,2.25 0 1,0 4.5,0a2.25,2.25 0 1,0 -4.5,0M190.05,114.90a2.25,2.25 0 1,0 4.5,0a2.25,2.25 0 1,0 -4.5,0M186.55,120.60a2.25,2.25 0 1,0 4.5,0a2.25,2.25 0 1,0 -4.5,0M193.25,120.00a2.25,2.25 0 1,0 4.5,0a2.25,2.25 0 1,0 -4.5,0M232.65,101.70a2.25,2.25 0 1,0 4.5,0a2.25,2.25 0 1,0 -4.5,0M246.15,102.10a2.25,2.25 0 1,0 4.5,0a2.25,2.25 0 1,0 -4.5,0M248.35,101.70a2.25,2.25 0 1,0 4.5,0a2.25,2.25 0 1,0 -4.5,0M253.85,120.00a2.25,2.25 0 1,0 4.5,0a2.25,2.25 0 1,0 -4.5,0M261.15,125.10a2.25,2.25 0 1,0 4.5,0a2.25,2.25 0 1,0 -4.5,0M216.85,128.60a2.25,2.25 0 1,0 4.5,0a2.25,2.25 0 1,0 -4.5,0M237.25,141.80a2.25,2.25 0 1,0 4.5,0a2.25,2.25 0 1,0 -4.5,0M240.65,143.90a2.25,2.25 0 1,0 4.5,0a2.25,2.25 0 1,0 -4.5,0M238.55,146.90a2.25,2.25 0 1,0 4.5,0a2.25,2.25 0 1,0 -4.5,0M241.95,147.30a2.25,2.25 0 1,0 4.5,0a2.25,2.25 0 1,0 -4.5,0M229.85,147.30a2.25,2.25 0 1,0 4.5,0a2.25,2.25 0 1,0 -4.5,0M252.55,147.30a2.25,2.25 0 1,0 4.5,0a2.25,2.25 0 1,0 -4.5,0M255.15,147.30a2.25,2.25 0 1,0 4.5,0a2.25,2.25 0 1,0 -4.5,0M235.95,160.80a2.25,2.25 0 1,0 4.5,0a2.25,2.25 0 1,0 -4.5,0M277.95,157.20a2.25,2.25 0 1,0 4.5,0a2.25,2.25 0 1,0 -4.5,0M281.25,165.70a2.25,2.25 0 1,0 4.5,0a2.25,2.25 0 1,0 -4.5,0M301.45,160.40a2.25,2.25 0 1,0 4.5,0a2.25,2.25 0 1,0 -4.5,0M278.65,200.70a2.25,2.25 0 1,0 4.5,0a2.25,2.25 0 1,0 -4.5,0M282.55,205.40a2.25,2.25 0 1,0 4.5,0a2.25,2.25 0 1,0 -4.5,0M238.15,165.70a2.25,2.25 0 1,0 4.5,0a2.25,2.25 0 1,0 -4.5,0M251.75,168.70a2.25,2.25 0 1,0 4.5,0a2.25,2.25 0 1,0 -4.5,0M252.15,171.20a2.25,2.25 0 1,0 4.5,0a2.25,2.25 0 1,0 -4.5,0M261.75,165.70a2.25,2.25 0 1,0 4.5,0a2.25,2.25 0 1,0 -4.5,0M227.35,170.80a2.25,2.25 0 1,0 4.5,0a2.25,2.25 0 1,0 -4.5,0M227.05,181.40a2.25,2.25 0 1,0 4.5,0a2.25,2.25 0 1,0 -4.5,0M240.75,182.70a2.25,2.25 0 1,0 4.5,0a2.25,2.25 0 1,0 -4.5,0M264.25,179.40a2.25,2.25 0 1,0 4.5,0a2.25,2.25 0 1,0 -4.5,0M267.05,187.80a2.25,2.25 0 1,0 4.5,0a2.25,2.25 0 1,0 -4.5,0M222.85,203.30a2.25,2.25 0 1,0 4.5,0a2.25,2.25 0 1,0 -4.5,0M254.35,206.70a2.25,2.25 0 1,0 4.5,0a2.25,2.25 0 1,0 -4.5,0M270.05,220.20a2.25,2.25 0 1,0 4.5,0a2.25,2.25 0 1,0 -4.5,0M275.95,225.40a2.25,2.25 0 1,0 4.5,0a2.25,2.25 0 1,0 -4.5,0M540.95,31.10a2.25,2.25 0 1,0 4.5,0a2.25,2.25 0 1,0 -4.5,0M545.55,45.50a2.25,2.25 0 1,0 4.5,0a2.25,2.25 0 1,0 -4.5,0M576.35,33.50a2.25,2.25 0 1,0 4.5,0a2.25,2.25 0 1,0 -4.5,0M581.35,38.70a2.25,2.25 0 1,0 4.5,0a2.25,2.25 0 1,0 -4.5,0M612.45,33.50a2.25,2.25 0 1,0 4.5,0a2.25,2.25 0 1,0 -4.5,0M645.75,38.70a2.25,2.25 0 1,0 4.5,0a2.25,2.25 0 1,0 -4.5,0M528.55,122.50a2.25,2.25 0 1,0 4.5,0a2.25,2.25 0 1,0 -4.5,0M532.85,122.80a2.25,2.25 0 1,0 4.5,0a2.25,2.25 0 1,0 -4.5,0M548.75,125.50a2.25,2.25 0 1,0 4.5,0a2.25,2.25 0 1,0 -4.5,0M572.05,87.30a2.25,2.25 0 1,0 4.5,0a2.25,2.25 0 1,0 -4.5,0M598.55,87.30a2.25,2.25 0 1,0 4.5,0a2.25,2.25 0 1,0 -4.5,0M605.75,87.70a2.25,2.25 0 1,0 4.5,0a2.25,2.25 0 1,0 -4.5,0M607.85,96.40a2.25,2.25 0 1,0 4.5,0a2.25,2.25 0 1,0 -4.5,0M599.15,100.80a2.25,2.25 0 1,0 4.5,0a2.25,2.25 0 1,0 -4.5,0M590.85,111.10a2.25,2.25 0 1,0 4.5,0a2.25,2.25 0 1,0 -4.5,0M592.35,114.70a2.25,2.25 0 1,0 4.5,0a2.25,2.25 0 1,0 -4.5,0M603.75,116.70a2.25,2.25 0 1,0 4.5,0a2.25,2.25 0 1,0 -4.5,0M580.95,119.40a2.25,2.25 0 1,0 4.5,0a2.25,2.25 0 1,0 -4.5,0M610.95,119.40a2.25,2.25 0 1,0 4.5,0a2.25,2.25 0 1,0 -4.5,0M577.25,157.20a2.25,2.25 0 1,0 4.5,0a2.25,2.25 0 1,0 -4.5,0M613.55,125.70a2.25,2.25 0 1,0 4.5,0a2.25,2.25 0 1,0 -4.5,0M615.85,125.10a2.25,2.25 0 1,0 4.5,0a2.25,2.25 0 1,0 -4.5,0M618.15,124.30a2.25,2.25 0 1,0 4.5,0a2.25,2.25 0 1,0 -4.5,0M615.25,136.50a2.25,2.25 0 1,0 4.5,0a2.25,2.25 0 1,0 -4.5,0M597.45,142.50a2.25,2.25 0 1,0 4.5,0a2.25,2.25 0 1,0 -4.5,0M605.85,146.70a2.25,2.25 0 1,0 4.5,0a2.25,2.25 0 1,0 -4.5,0M618.15,147.30a2.25,2.25 0 1,0 4.5,0a2.25,2.25 0 1,0 -4.5,0M586.55,163.60a2.25,2.25 0 1,0 4.5,0a2.25,2.25 0 1,0 -4.5,0M608.15,168.00a2.25,2.25 0 1,0 4.5,0a2.25,2.25 0 1,0 -4.5,0M609.95,171.00a2.25,2.25 0 1,0 4.5,0a2.25,2.25 0 1,0 -4.5,0M611.55,173.90a2.25,2.25 0 1,0 4.5,0a2.25,2.25 0 1,0 -4.5,0M601.95,173.90a2.25,2.25 0 1,0 4.5,0a2.25,2.25 0 1,0 -4.5,0M613.55,181.30a2.25,2.25 0 1,0 4.5,0a2.25,2.25 0 1,0 -4.5,0M618.15,181.30a2.25,2.25 0 1,0 4.5,0a2.25,2.25 0 1,0 -4.5,0M635.45,79.00a2.25,2.25 0 1,0 4.5,0a2.25,2.25 0 1,0 -4.5,0M617.45,96.60a2.25,2.25 0 1,0 4.5,0a2.25,2.25 0 1,0 -4.5,0M628.15,98.10a2.25,2.25 0 1,0 4.5,0a2.25,2.25 0 1,0 -4.5,0M636.45,109.50a2.25,2.25 0 1,0 4.5,0a2.25,2.25 0 1,0 -4.5,0M647.85,120.20a2.25,2.25 0 1,0 4.5,0a2.25,2.25 0 1,0 -4.5,0M623.35,136.80a2.25,2.25 0 1,0 4.5,0a2.25,2.25 0 1,0 -4.5,0M632.35,138.40a2.25,2.25 0 1,0 4.5,0a2.25,2.25 0 1,0 -4.5,0M630.05,142.40a2.25,2.25 0 1,0 4.5,0a2.25,2.25 0 1,0 -4.5,0M635.25,143.50a2.25,2.25 0 1,0 4.5,0a2.25,2.25 0 1,0 -4.5,0M629.45,157.00a2.25,2.25 0 1,0 4.5,0a2.25,2.25 0 1,0 -4.5,0M644.65,157.00a2.25,2.25 0 1,0 4.5,0a2.25,2.25 0 1,0 -4.5,0M630.05,166.00a2.25,2.25 0 1,0 4.5,0a2.25,2.25 0 1,0 -4.5,0M659.25,166.60a2.25,2.25 0 1,0 4.5,0a2.25,2.25 0 1,0 -4.5,0M621.75,174.30a2.25,2.25 0 1,0 4.5,0a2.25,2.25 0 1,0 -4.5,0M626.75,171.10a2.25,2.25 0 1,0 4.5,0a2.25,2.25 0 1,0 -4.5,0M638.35,168.20a2.25,2.25 0 1,0 4.5,0a2.25,2.25 0 1,0 -4.5,0M640.15,170.40a2.25,2.25 0 1,0 4.5,0a2.25,2.25 0 1,0 -4.5,0M644.25,168.20a2.25,2.25 0 1,0 4.5,0a2.25,2.25 0 1,0 -4.5,0M641.25,173.80a2.25,2.25 0 1,0 4.5,0a2.25,2.25 0 1,0 -4.5,0M631.25,182.80a2.25,2.25 0 1,0 4.5,0a2.25,2.25 0 1,0 -4.5,0M650.25,182.80a2.25,2.25 0 1,0 4.5,0a2.25,2.25 0 1,0 -4.5,0M659.25,182.30a2.25,2.25 0 1,0 4.5,0a2.25,2.25 0 1,0 -4.5,0M662.55,182.30a2.25,2.25 0 1,0 4.5,0a2.25,2.25 0 1,0 -4.5,0M581.45,169.60a2.25,2.25 0 1,0 4.5,0a2.25,2.25 0 1,0 -4.5,0M566.55,182.60a2.25,2.25 0 1,0 4.5,0a2.25,2.25 0 1,0 -4.5,0M577.25,184.70a2.25,2.25 0 1,0 4.5,0a2.25,2.25 0 1,0 -4.5,0M596.55,184.70a2.25,2.25 0 1,0 4.5,0a2.25,2.25 0 1,0 -4.5,0M591.75,200.60a2.25,2.25 0 1,0 4.5,0a2.25,2.25 0 1,0 -4.5,0M576.85,208.10a2.25,2.25 0 1,0 4.5,0a2.25,2.25 0 1,0 -4.5,0M603.75,219.90a2.25,2.25 0 1,0 4.5,0a2.25,2.25 0 1,0 -4.5,0M607.95,220.90a2.25,2.25 0 1,0 4.5,0a2.25,2.25 0 1,0 -4.5,0M624.65,187.70a2.25,2.25 0 1,0 4.5,0a2.25,2.25 0 1,0 -4.5,0M629.45,187.70a2.25,2.25 0 1,0 4.5,0a2.25,2.25 0 1,0 -4.5,0M627.55,192.60a2.25,2.25 0 1,0 4.5,0a2.25,2.25 0 1,0 -4.5,0M648.35,192.60a2.25,2.25 0 1,0 4.5,0a2.25,2.25 0 1,0 -4.5,0M637.25,200.50a2.25,2.25 0 1,0 4.5,0a2.25,2.25 0 1,0 -4.5,0M642.75,200.50a2.25,2.25 0 1,0 4.5,0a2.25,2.25 0 1,0 -4.5,0M617.45,205.40a2.25,2.25 0 1,0 4.5,0a2.25,2.25 0 1,0 -4.5,0M622.25,206.10a2.25,2.25 0 1,0 4.5,0a2.25,2.25 0 1,0 -4.5,0M629.45,206.60a2.25,2.25 0 1,0 4.5,0a2.25,2.25 0 1,0 -4.5,0M631.95,206.10a2.25,2.25 0 1,0 4.5,0a2.25,2.25 0 1,0 -4.5,0M634.35,206.10a2.25,2.25 0 1,0 4.5,0a2.25,2.25 0 1,0 -4.5,0M645.95,205.40a2.25,2.25 0 1,0 4.5,0a2.25,2.25 0 1,0 -4.5,0M668.15,208.50a2.25,2.25 0 1,0 4.5,0a2.25,2.25 0 1,0 -4.5,0M621.05,212.60a2.25,2.25 0 1,0 4.5,0a2.25,2.25 0 1,0 -4.5,0M623.45,213.80a2.25,2.25 0 1,0 4.5,0a2.25,2.25 0 1,0 -4.5,0M628.25,208.50a2.25,2.25 0 1,0 4.5,0a2.25,2.25 0 1,0 -4.5,0M629.45,213.30a2.25,2.25 0 1,0 4.5,0a2.25,2.25 0 1,0 -4.5,0M634.35,211.40a2.25,2.25 0 1,0 4.5,0a2.25,2.25 0 1,0 -4.5,0M637.95,211.90a2.25,2.25 0 1,0 4.5,0a2.25,2.25 0 1,0 -4.5,0M646.35,213.80a2.25,2.25 0 1,0 4.5,0a2.25,2.25 0 1,0 -4.5,0M656.05,213.30a2.25,2.25 0 1,0 4.5,0a2.25,2.25 0 1,0 -4.5,0M663.35,216.70a2.25,2.25 0 1,0 4.5,0a2.25,2.25 0 1,0 -4.5,0M634.35,216.70a2.25,2.25 0 1,0 4.5,0a2.25,2.25 0 1,0 -4.5,0M638.65,216.70a2.25,2.25 0 1,0 4.5,0a2.25,2.25 0 1,0 -4.5,0M614.55,216.70a2.25,2.25 0 1,0 4.5,0a2.25,2.25 0 1,0 -4.5,0M645.65,224.70a2.25,2.25 0 1,0 4.5,0a2.25,2.25 0 1,0 -4.5,0" fill="none" stroke="#6b8e23" stroke-width="1.15"/>
<path d="M146.35,117.10a2.25,2.25 0 1,0 4.5,0a2.25,2.25 0 1,0 -4.5,0M265.15,79.50a2.25,2.25 0 1,0 4.5,0a2.25,2.25 0 1,0 -4.5,0M273.85,125.90a2.25,2.25 0 1,0 4.5,0a2.25,2.25 0 1,0 -4.5,0M274.25,160.40a2.25,2.25 0 1,0 4.5,0a2.25,2.25 0 1,0 -4.5,0M580.95,166.20a2.25,2.25 0 1,0 4.5,0a2.25,2.25 0 1,0 -4.5,0M655.85,174.30a2.25,2.25 0 1,0 4.5,0a2.25,2.25 0 1,0 -4.5,0M686.15,174.30a2.25,2.25 0 1,0 4.5,0a2.25,2.25 0 1,0 -4.5,0M640.15,182.30a2.25,2.25 0 1,0 4.5,0a2.25,2.25 0 1,0 -4.5,0M590.35,213.70a2.25,2.25 0 1,0 4.5,0a2.25,2.25 0 1,0 -4.5,0M670.55,187.70a2.25,2.25 0 1,0 4.5,0a2.25,2.25 0 1,0 -4.5,0M660.85,202.90a2.25,2.25 0 1,0 4.5,0a2.25,2.25 0 1,0 -4.5,0M642.75,206.10a2.25,2.25 0 1,0 4.5,0a2.25,2.25 0 1,0 -4.5,0M680.75,211.90a2.25,2.25 0 1,0 4.5,0a2.25,2.25 0 1,0 -4.5,0" fill="none" stroke="#6a5acd" stroke-width="1.15"/>
<path d="M51.40,250.62H54.60M53.00,236.85H54.60M53.00,228.80H54.60M53.00,223.09H54.60M53.00,218.66H54.60M53.00,215.04H54.60M53.00,211.97H54.60M53.00,209.32H54.60M53.00,206.98H54.60M51.40,204.89H54.60M53.00,191.12H54.60M53.00,183.07H54.60M53.00,177.36H54.60M53.00,172.93H54.60M53.00,169.31H54.60M53.00,166.24H54.60M53.00,163.59H54.60M53.00,161.25H54.60M51.40,159.16H54.60M53.00,145.39H54.60M53.00,137.34H54.60M53.00,131.63H54.60M53.00,127.20H54.60M53.00,123.58H54.60M53.00,120.51H54.60M53.00,117.86H54.60M53.00,115.52H54.60M51.40,113.43H54.60M53.00,99.66H54.60M53.00,91.61H54.60M53.00,85.90H54.60M53.00,81.47H54.60M53.00,77.85H54.60M53.00,74.78H54.60M53.00,72.13H54.60M53.00,69.79H54.60M51.40,67.70H54.60M53.00,53.93H54.60M53.00,45.88H54.60M53.00,40.17H54.60M53.00,35.74H54.60M53.00,32.12H54.60M53.00,29.05H54.60M53.00,26.40H54.60M53.00,24.06H54.60M51.40,21.97H54.60M53.00,8.20H54.60M54.60,250.80V254.00M94.80,250.80V252.40M118.32,250.80V252.40M135.01,250.80V252.40M147.95,250.80V252.40M158.52,250.80V252.40M167.46,250.80V252.40M175.21,250.80V252.40M182.04,250.80V252.40M188.15,250.80V254.00M228.35,250.80V252.40M251.87,250.80V252.40M268.56,250.80V252.40M281.50,250.80V252.40M292.07,250.80V252.40M301.01,250.80V252.40M308.76,250.80V252.40M315.59,250.80V252.40M321.70,250.80V254.00" stroke="#606060" stroke-width="1.1" fill="none"/>
<text transform="translate(50.00,256.42) scale(1,1.035)" text-anchor="end" font-size="15" font-family="Liberation Sans, sans-serif">10<tspan font-size="11" dy="-4.6">−4</tspan></text>
<text transform="translate(50.00,210.69) scale(1,1.035)" text-anchor="end" font-size="15" font-family="Liberation Sans, sans-serif">10<tspan font-size="11" dy="-4.6">−3</tspan></text>
<text transform="translate(50.00,164.96) scale(1,1.035)" text-anchor="end" font-size="15" font-family="Liberation Sans, sans-serif">10<tspan font-size="11" dy="-4.6">−2</tspan></text>
<text transform="translate(50.00,119.23) scale(1,1.035)" text-anchor="end" font-size="15" font-family="Liberation Sans, sans-serif">10<tspan font-size="11" dy="-4.6">−1</tspan></text>
<text transform="translate(50.00,73.50) scale(1,1.035)" text-anchor="end" font-size="15" font-family="Liberation Sans, sans-serif">10<tspan font-size="11" dy="-4.6">0</tspan></text>
<text transform="translate(50.00,27.77) scale(1,1.035)" text-anchor="end" font-size="15" font-family="Liberation Sans, sans-serif">10<tspan font-size="11" dy="-4.6">1</tspan></text>
<text transform="translate(55.40,267.50) scale(1,1.035)" text-anchor="middle" font-size="15" font-family="Liberation Sans, sans-serif">10<tspan font-size="11" dy="-5.6">1</tspan></text>
<text transform="translate(188.95,267.50) scale(1,1.035)" text-anchor="middle" font-size="15" font-family="Liberation Sans, sans-serif">10<tspan font-size="11" dy="-5.6">2</tspan></text>
<text transform="translate(322.50,267.50) scale(1,1.035)" text-anchor="middle" font-size="15" font-family="Liberation Sans, sans-serif">10<tspan font-size="11" dy="-5.6">3</tspan></text>
<text transform="translate(200.00,285.80) scale(1,1.035)" text-anchor="middle" font-size="15" font-family="Liberation Sans, sans-serif">T<tspan font-size="12" dy="2.6">bol</tspan><tspan dy="-2.6"> (K)</tspan></text>
<text transform="translate(14,125.6) scale(1,1.04) rotate(-90)" text-anchor="middle" font-size="15" font-family="Liberation Sans, sans-serif">M<tspan font-size="12" dy="1.2">2500</tspan><tspan dy="-1.2"> (M</tspan><tspan dx="10.06">)</tspan></text>
<circle cx="10.9" cy="96" r="3.35" fill="none" stroke="#000" stroke-width="0.95"/><circle cx="10.9" cy="96" r="0.8" fill="#000"/>
<text transform="translate(11.20,25.60) scale(1,1.035)" fill="#dc2830" font-size="12.8" font-family="Liberation Sans, sans-serif">a)</text>
<text transform="translate(171.40,26.00) scale(1,1.13)" font-size="13.8" font-family="Liberation Mono, monospace">Aquila</text>
<text transform="translate(69.40,173.20) scale(1,1.08)" fill="#8b0000" font-size="13.0" font-family="Liberation Sans, sans-serif">Class 0</text>
<text transform="translate(69.40,190.70) scale(1,1.08)" fill="#ff00ff" font-size="13.0" font-family="Liberation Sans, sans-serif">Class I</text>
<text transform="translate(69.40,208.20) scale(1,1.08)" fill="#6b8e23" font-size="13.0" font-family="Liberation Sans, sans-serif">Flat</text>
<text transform="translate(69.40,225.70) scale(1,1.08)" fill="#6a5acd" font-size="13.0" font-family="Liberation Sans, sans-serif">Class II</text>
<rect x="54.6" y="0.5" width="290.70" height="250.30" fill="none" stroke="#4a4a4a" stroke-width="1.15"/>
<path d="M405.40,250.62H408.60M407.00,236.85H408.60M407.00,228.80H408.60M407.00,223.09H408.60M407.00,218.66H408.60M407.00,215.04H408.60M407.00,211.97H408.60M407.00,209.32H408.60M407.00,206.98H408.60M405.40,204.89H408.60M407.00,191.12H408.60M407.00,183.07H408.60M407.00,177.36H408.60M407.00,172.93H408.60M407.00,169.31H408.60M407.00,166.24H408.60M407.00,163.59H408.60M407.00,161.25H408.60M405.40,159.16H408.60M407.00,145.39H408.60M407.00,137.34H408.60M407.00,131.63H408.60M407.00,127.20H408.60M407.00,123.58H408.60M407.00,120.51H408.60M407.00,117.86H408.60M407.00,115.52H408.60M405.40,113.43H408.60M407.00,99.66H408.60M407.00,91.61H408.60M407.00,85.90H408.60M407.00,81.47H408.60M407.00,77.85H408.60M407.00,74.78H408.60M407.00,72.13H408.60M407.00,69.79H408.60M405.40,67.70H408.60M407.00,53.93H408.60M407.00,45.88H408.60M407.00,40.17H408.60M407.00,35.74H408.60M407.00,32.12H408.60M407.00,29.05H408.60M407.00,26.40H408.60M407.00,24.06H408.60M405.40,21.97H408.60M407.00,8.20H408.60M408.60,250.80V254.00M448.80,250.80V252.40M472.32,250.80V252.40M489.01,250.80V252.40M501.95,250.80V252.40M512.52,250.80V252.40M521.46,250.80V252.40M529.21,250.80V252.40M536.04,250.80V252.40M542.15,250.80V254.00M582.35,250.80V252.40M605.87,250.80V252.40M622.56,250.80V252.40M635.50,250.80V252.40M646.07,250.80V252.40M655.01,250.80V252.40M662.76,250.80V252.40M669.59,250.80V252.40M675.70,250.80V254.00" stroke="#606060" stroke-width="1.1" fill="none"/>
<text transform="translate(404.00,256.42) scale(1,1.035)" text-anchor="end" font-size="15" font-family="Liberation Sans, sans-serif">10<tspan font-size="11" dy="-4.6">−4</tspan></text>
<text transform="translate(404.00,210.69) scale(1,1.035)" text-anchor="end" font-size="15" font-family="Liberation Sans, sans-serif">10<tspan font-size="11" dy="-4.6">−3</tspan></text>
<text transform="translate(404.00,164.96) scale(1,1.035)" text-anchor="end" font-size="15" font-family="Liberation Sans, sans-serif">10<tspan font-size="11" dy="-4.6">−2</tspan></text>
<text transform="translate(404.00,119.23) scale(1,1.035)" text-anchor="end" font-size="15" font-family="Liberation Sans, sans-serif">10<tspan font-size="11" dy="-4.6">−1</tspan></text>
<text transform="translate(404.00,73.50) scale(1,1.035)" text-anchor="end" font-size="15" font-family="Liberation Sans, sans-serif">10<tspan font-size="11" dy="-4.6">0</tspan></text>
<text transform="translate(404.00,27.77) scale(1,1.035)" text-anchor="end" font-size="15" font-family="Liberation Sans, sans-serif">10<tspan font-size="11" dy="-4.6">1</tspan></text>
<text transform="translate(409.40,267.50) scale(1,1.035)" text-anchor="middle" font-size="15" font-family="Liberation Sans, sans-serif">10<tspan font-size="11" dy="-5.6">1</tspan></text>
<text transform="translate(542.95,267.50) scale(1,1.035)" text-anchor="middle" font-size="15" font-family="Liberation Sans, sans-serif">10<tspan font-size="11" dy="-5.6">2</tspan></text>
<text transform="translate(676.50,267.50) scale(1,1.035)" text-anchor="middle" font-size="15" font-family="Liberation Sans, sans-serif">10<tspan font-size="11" dy="-5.6">3</tspan></text>
<text transform="translate(554.00,285.80) scale(1,1.035)" text-anchor="middle" font-size="15" font-family="Liberation Sans, sans-serif">T<tspan font-size="12" dy="2.6">bol</tspan><tspan dy="-2.6"> (K)</tspan></text>
<text transform="translate(368,125.6) scale(1,1.04) rotate(-90)" text-anchor="middle" font-size="15" font-family="Liberation Sans, sans-serif">M<tspan font-size="12" dy="1.2">2500</tspan><tspan dy="-1.2"> (M</tspan><tspan dx="10.06">)</tspan></text>
<circle cx="364.9" cy="96" r="3.35" fill="none" stroke="#000" stroke-width="0.95"/><circle cx="364.9" cy="96" r="0.8" fill="#000"/>
<text transform="translate(365.20,25.60) scale(1,1.035)" fill="#dc2830" font-size="12.8" font-family="Liberation Sans, sans-serif">b)</text>
<text transform="translate(525.40,26.00) scale(1,1.13)" font-size="13.8" font-family="Liberation Mono, monospace">Orion</text>
<text transform="translate(423.40,173.20) scale(1,1.08)" fill="#8b0000" font-size="13.0" font-family="Liberation Sans, sans-serif">Class 0</text>
<text transform="translate(423.40,190.70) scale(1,1.08)" fill="#ff00ff" font-size="13.0" font-family="Liberation Sans, sans-serif">Class I</text>
<text transform="translate(423.40,208.20) scale(1,1.08)" fill="#6b8e23" font-size="13.0" font-family="Liberation Sans, sans-serif">Flat</text>
<text transform="translate(423.40,225.70) scale(1,1.08)" fill="#6a5acd" font-size="13.0" font-family="Liberation Sans, sans-serif">Class II</text>
<rect x="408.6" y="0.5" width="290.70" height="250.30" fill="none" stroke="#4a4a4a" stroke-width="1.15"/>
</svg></body></html>
